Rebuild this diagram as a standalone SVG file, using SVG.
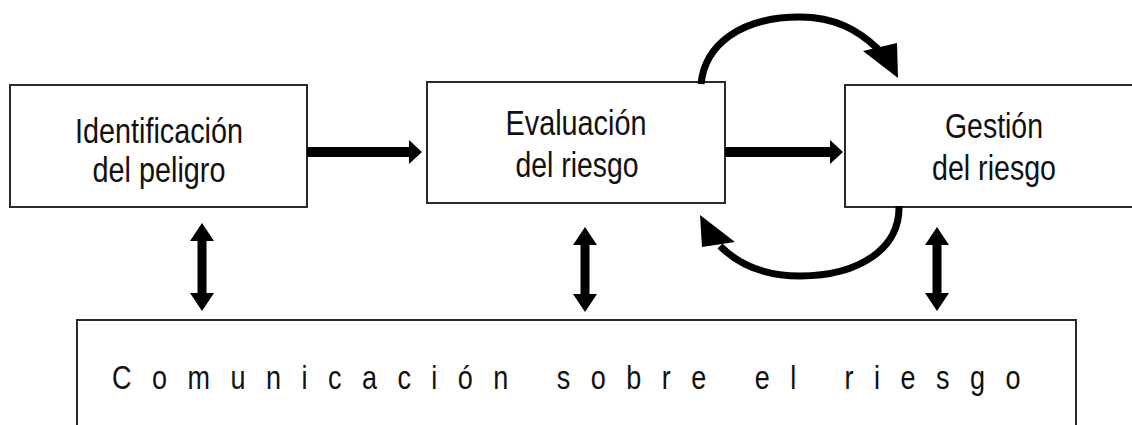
<svg xmlns="http://www.w3.org/2000/svg" width="1132" height="425" viewBox="0 0 1132 425">
<style>
.box{fill:#fff;stroke:#2a2a2a;stroke-width:2}
.lbl{font-family:"Liberation Sans",Arial,sans-serif;font-size:35px;fill:#111;text-anchor:middle}
.comm{font-family:"Liberation Sans",Arial,sans-serif;font-size:33px;fill:#111}
.arrow{fill:#000;stroke:none}
.arc{fill:none;stroke:#000;stroke-width:7}
</style>
<rect width="1132" height="425" fill="#fff"/>
<g id="node-identificacion">
<rect class="box" x="10" y="85" width="297" height="122"/>
<text class="lbl" x="159" y="143" textLength="168" lengthAdjust="spacingAndGlyphs">Identificación</text>
<text class="lbl" x="159" y="182" textLength="133" lengthAdjust="spacingAndGlyphs">del peligro</text>
</g>
<g id="node-evaluacion">
<rect class="box" x="427" y="82" width="298" height="121"/>
<text class="lbl" x="576" y="135" textLength="141" lengthAdjust="spacingAndGlyphs">Evaluación</text>
<text class="lbl" x="577" y="177" textLength="123" lengthAdjust="spacingAndGlyphs">del riesgo</text>
</g>
<g id="node-gestion">
<rect class="box" x="845" y="85" width="300" height="122"/>
<text class="lbl" x="994" y="138" textLength="98" lengthAdjust="spacingAndGlyphs">Gestión</text>
<text class="lbl" x="994" y="180" textLength="124" lengthAdjust="spacingAndGlyphs">del riesgo</text>
</g>
<g id="node-comunicacion">
<rect class="box" x="77" y="320" width="999" height="120"/>
<text class="comm" transform="translate(112,389) scale(0.82,1)" x="0" y="0" textLength="1108" lengthAdjust="spacing">Comunicación sobre el riesgo</text>
</g>
<g id="connectors">
<polygon class="arrow" points="307,147 409,147 409,140 422,152 409,164 409,157 307,157"/>
<polygon class="arrow" points="725,147 830,147 830,140 843,152 830,164 830,157 725,157"/>
<polygon class="arrow" points="202,223 214,241 206.5,241 206.5,293 214,293 202,311 190,293 197.5,293 197.5,241 190,241"/>
<polygon class="arrow" points="585,227 597,245 589.5,245 589.5,294 597,294 585,312 573,294 580.5,294 580.5,245 573,245"/>
<polygon class="arrow" points="937,227 949,245 941.5,245 941.5,293 949,293 937,311 925,293 932.5,293 932.5,245 925,245"/>
<path class="arc" d="M701,84 C705,45 740,17 800,17 C835,17 858,30 878,49"/>
<polygon class="arrow" points="863,51 897,43 898,78"/>
<path class="arc" d="M899,206 C900,248 860,276 800,276 C765,276 738,264 720,246"/>
<polygon class="arrow" points="700,215 702,247 735,242"/>
</g>
</svg>
